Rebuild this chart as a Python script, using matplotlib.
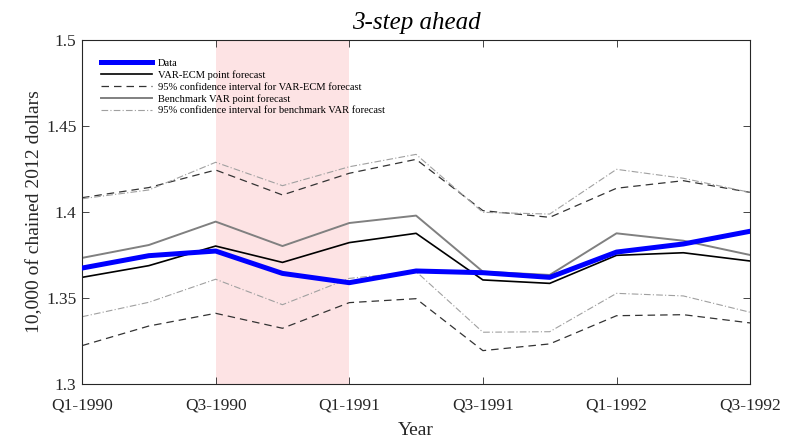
import matplotlib.pyplot as plt
from matplotlib.patches import Rectangle

# trimestres do período de previsão
quarters = ['Q1-1990', 'Q2-1990', 'Q3-1990', 'Q4-1990', 'Q1-1991', 'Q2-1991',
            'Q3-1991', 'Q4-1991', 'Q1-1992', 'Q2-1992', 'Q3-1992']

data = [1.3674, 1.3746, 1.3773, 1.3643, 1.3589, 1.3657,
        1.3647, 1.3620, 1.3767, 1.3814, 1.3888]
ecm_point = [1.3620, 1.3688, 1.3802, 1.3707, 1.3822, 1.3876,
             1.3605, 1.3585, 1.3748, 1.3763, 1.3715]
ecm_upper = [1.4083, 1.4142, 1.4244, 1.4099, 1.4225, 1.4306,
             1.4008, 1.3969, 1.4138, 1.4182, 1.4114]
ecm_lower = [1.3223, 1.3337, 1.3411, 1.3324, 1.3473, 1.3496,
             1.3194, 1.3233, 1.3397, 1.3403, 1.3355]
var_point = [1.3733, 1.3808, 1.3944, 1.3802, 1.3936, 1.3979,
             1.3653, 1.3634, 1.3876, 1.3833, 1.3750]
var_upper = [1.4077, 1.4128, 1.4289, 1.4153, 1.4263, 1.4335,
             1.3998, 1.3988, 1.4248, 1.4196, 1.4114]
var_lower = [1.3391, 1.3475, 1.3609, 1.3461, 1.3614, 1.3654,
             1.3301, 1.3304, 1.3527, 1.3512, 1.3417]

# recessão: Q3-1990 até Q1-1991
recession = ('Q3-1990', 'Q1-1991')

plt.rcParams['font.family'] = ['Liberation Serif', 'DejaVu Serif']

fig = plt.figure(figsize=(7.97, 4.38), dpi=100)
ax = fig.add_axes([0.1029, 0.1233, 0.8383, 0.7854])

x = range(len(quarters))
r0, r1 = quarters.index(recession[0]), quarters.index(recession[1])
ax.add_patch(Rectangle((r0, 1.3), r1 - r0, 0.2, facecolor='#fde3e4',
                       edgecolor='none', zorder=0))

ax.plot(x, data, color='#0000ff', lw=3.6, label='Data', zorder=5)
ax.plot(x, ecm_point, color='black', lw=1.2, label='VAR-ECM point forecast')
ax.plot(x, ecm_upper, color='#333333', lw=0.9, ls=(0, (6, 4)),
        label='95% confidence interval for VAR-ECM forecast')
ax.plot(x, ecm_lower, color='#333333', lw=0.9, ls=(0, (6, 4)))
ax.plot(x, var_point, color='#808080', lw=1.4, label='Benchmark VAR point forecast')
ax.plot(x, var_upper, color='#a0a0a0', lw=0.8, ls=(0, (6, 2, 1, 2)),
        label='95% confidence interval for benchmark VAR forecast')
ax.plot(x, var_lower, color='#a0a0a0', lw=0.8, ls=(0, (6, 2, 1, 2)))

ax.set_xlim(0, len(quarters) - 1)
ax.set_ylim(1.3, 1.5)
ax.set_xticks(list(x)[::2])
ax.set_xticklabels(quarters[::2])
ax.set_yticks([1.3, 1.35, 1.4, 1.45, 1.5])
ax.set_yticklabels(['1.3', '1.35', '1.4', '1.45', '1.5'])
ax.tick_params(direction='in', top=True, right=True, labelsize=12.5,
               length=5, width=0.6, colors='#262626', pad=4)
ax.tick_params(axis='x', pad=10)
for s in ax.spines.values():
    s.set_color('#262626')
    s.set_linewidth(0.8)

ax.set_xlabel('Year', fontsize=14, color='#262626', labelpad=6)
ax.set_ylabel('10,000 of chained 2012 dollars', fontsize=14, color='#262626',
              labelpad=2)
ax.set_title('3-step ahead', fontsize=18, style='italic', pad=8)

ax.legend(loc='upper left', bbox_to_anchor=(0.028, 0.946), frameon=False,
          fontsize=7.6, handlelength=4.9, labelspacing=0.22, handletextpad=0.55,
          borderaxespad=0, borderpad=0)

fig.savefig('out.png', dpi=100)
